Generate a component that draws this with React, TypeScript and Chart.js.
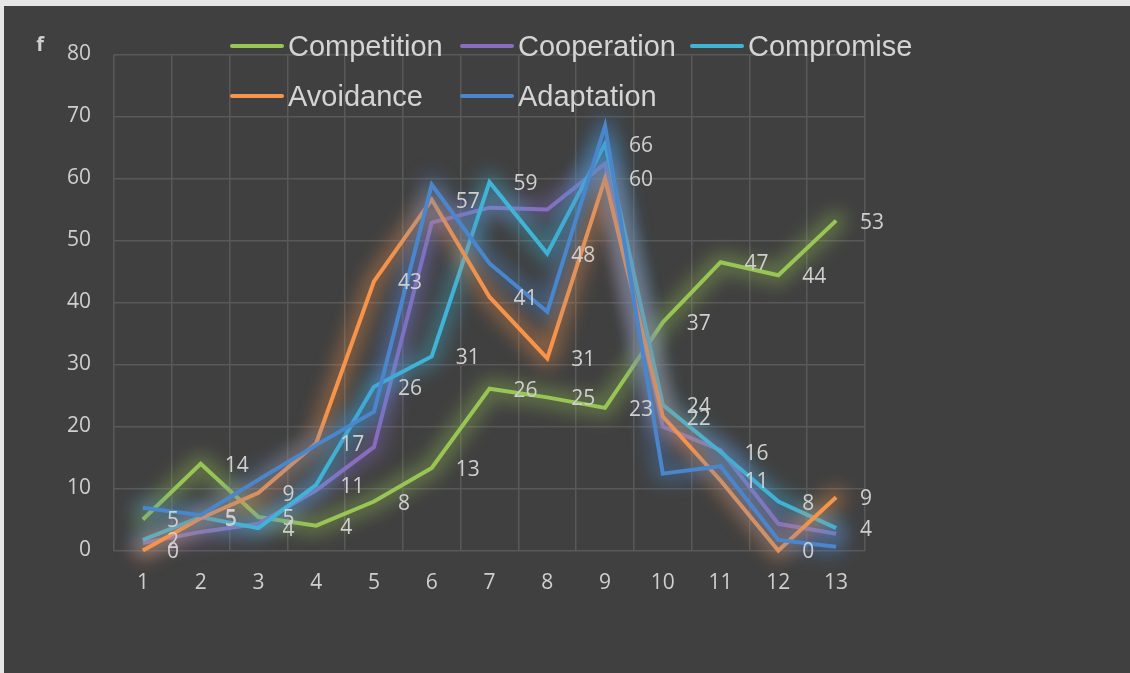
import React, { useEffect, useRef } from 'react';
import { Chart, registerables } from 'chart.js';

Chart.register(...registerables);

const categories = ['1', '2', '3', '4', '5', '6', '7', '8', '9', '10', '11', '12', '13'];
const seriesNames = ['Competition', 'Cooperation', 'Compromise', 'Avoidance', 'Adaptation'];
const seriesColors = ['#98c554', '#8a6cc0', '#3fb4d6', '#f7944a', '#4a86cc'];
const competition = [5, 14, 5.4, 4, 7.9, 13.3, 26.1, 24.7, 23, 36.8, 46.5, 44.4, 53.2];
const cooperation = [1.2, 3.0, 4.3, 9.7, 16.7, 52.9, 55.3, 55, 62.4, 20, 16.2, 4.3, 2.7];
const compromise = [1.7, 5.4, 3.6, 10.6, 26.4, 31.3, 59.4, 47.9, 65.6, 23.5, 15.9, 7.9, 3.6];
const avoidance = [0, 5.2, 9.3, 17.3, 43.4, 56.6, 40.9, 31, 60, 21.6, 11.3, 0, 8.6];
const adaptation = [6.9, 5.7, 11.4, 17, 22.4, 59, 46.3, 38.5, 68.5, 12.4, 13.6, 1.7, 0.6];
const seriesValues = [competition, cooperation, compromise, avoidance, adaptation];
const labeledSeries = ['Competition', 'Compromise', 'Avoidance'];
const yMin = 0;
const yMax = 80;
const yStep = 10;
const yAxisTitle = 'f';

const BG = '#404040';
const GRID = '#595959';
const TEXT = '#cfcfcf';

function withAlpha(hex: string, a: number) {
  const n = parseInt(hex.slice(1), 16);
  return `rgba(${(n >> 16) & 255},${(n >> 8) & 255},${n & 255},${a})`;
}

const glowPlugin = {
  id: 'glow',
  beforeDatasetDraw(chart: any, args: any) {
    const ds = chart.data.datasets[args.index];
    const meta = chart.getDatasetMeta(args.index);
    const ctx = chart.ctx;
    ctx.save();
    ctx.filter = 'blur(9px)';
    ctx.strokeStyle = withAlpha(ds.borderColor, 0.38);
    ctx.lineWidth = 20;
    ctx.lineJoin = 'round';
    ctx.lineCap = 'round';
    ctx.beginPath();
    meta.data.forEach((el: any, j: number) => {
      if (j === 0) ctx.moveTo(el.x, el.y);
      else ctx.lineTo(el.x, el.y);
    });
    ctx.stroke();
    ctx.restore();
  },
};

const labelPlugin = {
  id: 'pointLabels',
  afterDatasetsDraw(chart: any) {
    const ctx = chart.ctx;
    ctx.save();
    ctx.font = '21px "Open Sans"';
    ctx.fillStyle = TEXT;
    ctx.textAlign = 'left';
    ctx.textBaseline = 'middle';
    chart.data.datasets.forEach((ds: any, i: number) => {
      if (!labeledSeries.includes(ds.label)) return;
      const meta = chart.getDatasetMeta(i);
      meta.data.forEach((el: any, j: number) => {
        ctx.fillText(String(Math.round(ds.data[j])), el.x + 24, el.y + 2);
      });
    });
    ctx.font = 'bold 20px "Open Sans"';
    ctx.textAlign = 'center';
    ctx.fillText(yAxisTitle, 36, 39);
    ctx.restore();
  },
};

export default function App() {
  const ref = useRef<HTMLCanvasElement>(null);
  useEffect(() => {
    if (!ref.current) return;
    const n = seriesNames.length;
    const chart = new Chart(ref.current, {
      type: 'line',
      data: {
        labels: categories,
        datasets: seriesNames.map((name, i) => ({
          label: name,
          data: seriesValues[i],
          borderColor: seriesColors[i],
          backgroundColor: seriesColors[i],
          borderWidth: 4,
          pointRadius: 0,
          tension: 0,
          fill: false,
          clip: false as any,
          order: n - 1 - i,
          borderJoinStyle: 'miter' as const,
        })),
      },
      options: {
        responsive: false,
        animation: false,
        layout: { padding: { left: 0, top: 48.5, right: 265, bottom: 0 } },
        plugins: {
          legend: { display: false },
          tooltip: { enabled: false },
        },
        scales: {
          x: {
            offset: true,
            grid: { color: GRID, lineWidth: 1.5, offset: true, drawTicks: false },
            border: { display: false },
            ticks: { color: TEXT, font: { family: 'Open Sans', size: 21 }, padding: 20, maxRotation: 0 },
            afterFit: (s: any) => { s.height = 122.5; },
          },
          y: {
            min: yMin,
            max: yMax,
            grid: { color: GRID, lineWidth: 1.5, drawTicks: false },
            border: { display: false },
            ticks: { stepSize: yStep, color: TEXT, font: { family: 'Open Sans', size: 21 }, padding: 23 },
            afterFit: (s: any) => { s.width = 110; },
          },
        },
      },
      plugins: [glowPlugin, labelPlugin],
    });
    return () => chart.destroy();
  }, []);

  const rows = [seriesNames.slice(0, 3), seriesNames.slice(3)];
  return (
    <div style={{ position: 'fixed', left: 0, top: 0, width: 1130, height: 673, background: '#e6e6e6', overflow: 'hidden' }}>
      <div style={{ position: 'absolute', left: 4, top: 6, width: 1126, height: 667, background: BG }}>
        <canvas ref={ref} width={1126} height={667} style={{ display: 'block' }} />
        {rows.map((row, r) => (
          <div key={r} style={{ position: 'absolute', left: 226, top: 15 + r * 50, height: 50, display: 'flex', alignItems: 'center' }}>
            {row.map((name) => {
              const idx = seriesNames.indexOf(name);
              return (
                <div key={name} style={{ width: 230, display: 'flex', alignItems: 'center' }}>
                  <div style={{ width: 54, height: 4, borderRadius: 2, background: seriesColors[idx], marginRight: 4 }} />
                  <span style={{ font: '29px "Liberation Sans", Arial, sans-serif', color: '#d4d4d4', whiteSpace: 'nowrap' }}>{name}</span>
                </div>
              );
            })}
          </div>
        ))}
      </div>
    </div>
  );
}
